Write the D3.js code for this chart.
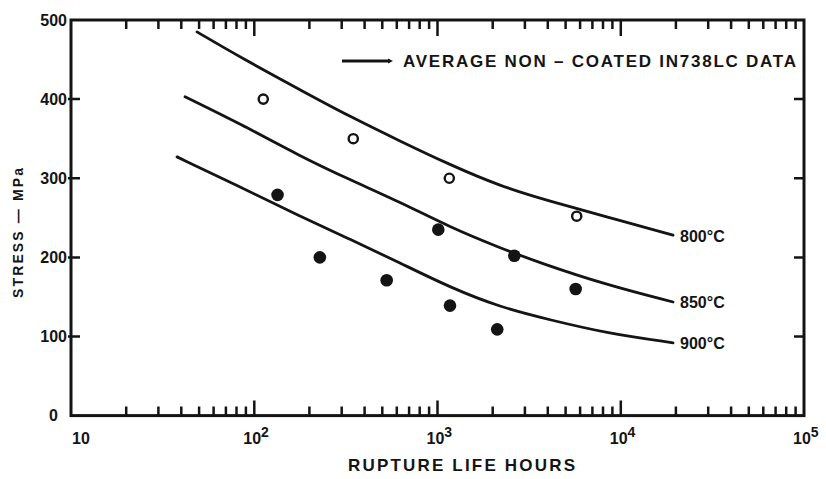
<!DOCTYPE html>
<html><head><meta charset="utf-8">
<script src="https://cdn.jsdelivr.net/npm/d3@7"></script>
<style>
body{margin:0;background:#fff;}
text{font-family:"Liberation Sans",Arial,sans-serif;font-weight:bold;fill:#141414;}
</style></head>
<body><svg id="c" width="826" height="479"></svg>
<script>
// ---- data ----
const xTickExponents = [1, 2, 3, 4, 5];
const yTickValues = [0, 100, 200, 300, 400, 500];
const curveLabels = ["800°C", "850°C", "900°C"];
const curve800 = [[48.7,485],[83.6,453],[201.5,405],[333,378],[624,347],[1170,317],[2194,290],[4111,271],[8414,251],[19290,228]];
const curve850 = [[41.9,403],[83.6,369],[177.7,328],[333,298],[624,270],[1170,238],[2194,212],[3626,193],[8414,165],[19290,143.6]];
const curve900 = [[37.9,327],[83.6,289],[177.7,252],[333,223],[624,193],[1170,162],[2194,137],[4111,121],[8414,104],[19290,92]];
const openPoints = [[112,400],[347,350],[1160,300],[5750,252]];
const filledPoints = [[134,279],[228,200],[528,171],[1010,235],[1170,139],[2118,109],[2625,202],[5675,160]];
const legendText = "AVERAGE NON – COATED IN738LC DATA";
const xTitle = "RUPTURE LIFE HOURS";
const yTitle = "STRESS — MPa";

// ---- layout ----
const svg = d3.select("#c");
const L = 71, R = 804, T = 20, B = 415.6;
const x = d3.scaleLog().domain([10, 1e5]).range([L, R]);
const y = d3.scaleLinear().domain([0, 500]).range([B, T]);
const ink = "#141414";

const minor = [];
for (let e = 1; e < 5; e++) for (let m = 2; m <= 9; m++) minor.push(m * Math.pow(10, e));
const major = xTickExponents.slice(1, 4).map(e => Math.pow(10, e));
const inner = yTickValues.slice(1, 5);

// frame
svg.append("rect").attr("x", L).attr("y", T).attr("width", R - L).attr("height", B - T)
  .attr("fill", "none").attr("stroke", ink).attr("stroke-width", 3);

// tick marks, all pointing inward, built from the scales
let td = "";
minor.forEach(v => { const px = x(v).toFixed(1); td += `M${px},${B}V${B - 9}M${px},${T}V${T + 9}`; });
major.forEach(v => { const px = x(v).toFixed(1); td += `M${px},${B}V${B - 15}M${px},${T}V${T + 16}`; });
inner.forEach(v => { const py = y(v).toFixed(1); td += `M${L - 3},${py}H${L + 9}M${R - 10},${py}H${R}`; });
svg.append("path").attr("d", td).attr("fill", "none").attr("stroke", ink).attr("stroke-width", 2.5);

// y labels
svg.append("g").selectAll("text").data(yTickValues).join("text")
  .attr("x", d => d === 0 ? 58 : 67)
  .attr("y", d => y(d))
  .attr("dy", "0.36em")
  .attr("text-anchor", "end")
  .attr("font-size", 16)
  .text(d => d);

// x labels
const xl = svg.append("g").selectAll("text").data(xTickExponents).join("text")
  .attr("x", d => d === 1 ? x(10) + 1 : x(Math.pow(10, d)) - 11)
  .attr("y", 444)
  .attr("font-size", 16);
xl.append("tspan").text("10");
xl.filter(d => d > 1).append("tspan").attr("dy", -7).attr("font-size", 14).text(d => d);

// curves
const line = d3.line().x(d => x(d[0])).y(d => y(d[1])).curve(d3.curveBasis);
const curves = [curve800, curve850, curve900];
svg.append("g").selectAll("path").data(curves).join("path")
  .attr("d", line).attr("fill", "none").attr("stroke", ink).attr("stroke-width", 2.8)
  .attr("stroke-linecap", "round");

// curve labels
svg.append("g").selectAll("text").data(curves).join("text")
  .attr("x", d => x(d[d.length - 1][0]) + 7)
  .attr("y", d => y(d[d.length - 1][1]))
  .attr("dy", "0.4em")
  .attr("font-size", 16)
  .text((d, i) => curveLabels[i]);

// points
svg.append("g").selectAll("circle").data(openPoints).join("circle")
  .attr("cx", d => x(d[0])).attr("cy", d => y(d[1])).attr("r", 4.6)
  .attr("fill", "#fff").attr("stroke", ink).attr("stroke-width", 2.4);
svg.append("g").selectAll("circle").data(filledPoints).join("circle")
  .attr("cx", d => x(d[0])).attr("cy", d => y(d[1])).attr("r", 6.3)
  .attr("fill", ink);

// legend
svg.append("line").attr("x1", 342).attr("x2", 390).attr("y1", 61).attr("y2", 61)
  .attr("stroke", ink).attr("stroke-width", 3);
svg.append("path").attr("d", "M388,58.5 L393,61 L388,63.5 Z").attr("fill", ink);
svg.append("text").attr("x", 403).attr("y", 61).attr("dy", "0.36em")
  .attr("font-size", 17).attr("textLength", 393).attr("lengthAdjust", "spacing")
  .text(legendText);

// titles
svg.append("text").attr("x", 348).attr("y", 471).attr("font-size", 17)
  .attr("textLength", 227).attr("lengthAdjust", "spacing").text(xTitle);
svg.append("text").attr("transform", "translate(23,298) rotate(-90)")
  .attr("font-size", 14).attr("textLength", 130).attr("lengthAdjust", "spacing").text(yTitle);
</script></body></html>
